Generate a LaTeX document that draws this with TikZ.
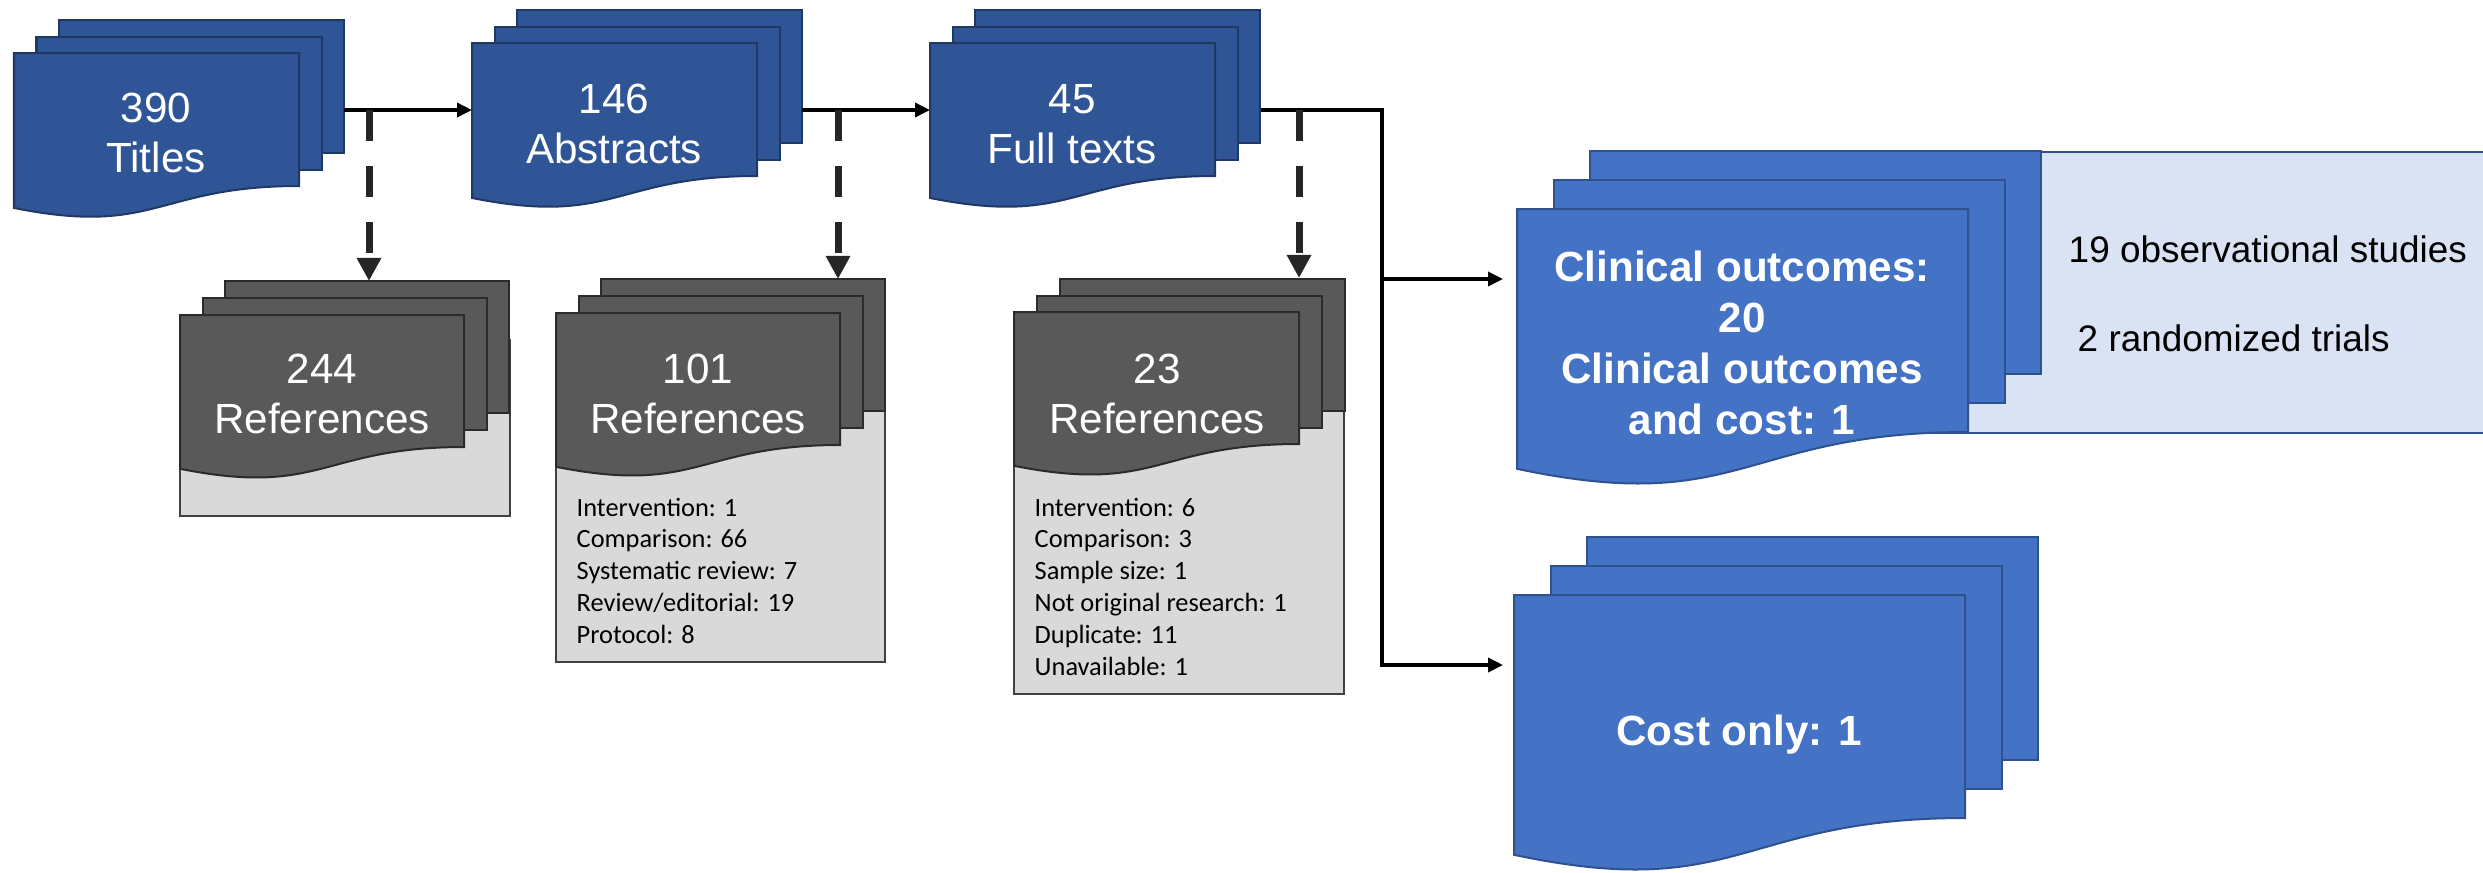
\documentclass[tikz,border=0pt]{standalone}
\usepackage{fontspec}
\setmainfont{Liberation Sans}
\newfontfamily\calibri{Carlito}
\usetikzlibrary{arrows.meta}
\definecolor{stepblue}{HTML}{2F5597}
\definecolor{stepedge}{HTML}{203864}
\definecolor{outblue}{HTML}{4472C4}
\definecolor{outedge}{HTML}{2F528F}
\definecolor{paleblue}{HTML}{DAE3F3}
\definecolor{refgray}{HTML}{595959}
\definecolor{refedge}{HTML}{2B2B2B}
\definecolor{palegray}{HTML}{D9D9D9}
\begin{document}
\begin{tikzpicture}[x=0.01cm, y=-0.01cm,
    big/.style={text=white, align=center, inner sep=0pt, font=\fontsize{12}{14.2}\selectfont},
    bold/.style={big, font=\fontsize{12}{14.5}\selectfont\bfseries},
    reason/.style={inner sep=0pt, anchor=base west, font=\calibri\fontsize{7.5}{9}\selectfont},
    study/.style={inner sep=0pt, anchor=west, font=\fontsize{10.5}{12}\selectfont},
    flow/.style={line width=0.035cm, -{Triangle[length=0.15cm, width=0.14cm]}},
    excl/.style={draw=black!85, line width=0.07cm, dash pattern=on 0.31cm off 0.25cm,
        -{Triangle[length=0.23cm, width=0.23cm]}},
    blue page/.style={fill=stepblue, draw=stepedge, line width=0.02cm},
    gray page/.style={fill=refgray, draw=refedge, line width=0.02cm},
    out page/.style={fill=outblue, draw=outedge, line width=0.02cm},
    pale box/.style={fill=palegray, draw=black!75, line width=0.02cm},
    pics/stack/.style n args={5}{code={
        \foreach \k in {2,1}
            \filldraw[#5] (\k*#3, -\k*#4) rectangle ++(#1, #2);
        \filldraw[#5] (0,0) -- (#1,0) -- (#1,#2)
            .. controls ({0.5*#1},#2) and ({0.5*#1},{1.38*#2}) .. (0,{1.165*#2}) -- cycle;
    }}]
    \useasboundingbox (0,0) rectangle (2483,872);
    % boxes behind the stacks
    \filldraw[pale box] (180,340) rectangle (510,516);
    \filldraw[pale box] (556,340) rectangle (885,662);
    \filldraw[pale box] (1014,340) rectangle (1344,694);
    \fill[paleblue] (1700,152) rectangle (2483,433);
    \draw[outedge, line width=0.02cm] (1700,152) -- (2483,152) (1700,433) -- (2483,433);
    % stacks
    \pic at (14,53) {stack={285}{133}{22.5}{16.5}{blue page}};
    \pic at (472,43) {stack={285}{133}{22.5}{16.5}{blue page}};
    \pic at (930,43) {stack={285}{133}{22.5}{16.5}{blue page}};
    \pic at (180,315) {stack={284}{132}{22.5}{17}{gray page}};
    \pic at (556,313) {stack={284}{132}{22.5}{17}{gray page}};
    \pic at (1014,312) {stack={285}{132}{23}{16.5}{gray page}};
    \pic at (1517,209) {stack={451}{223}{36.5}{29}{out page}};
    \pic at (1514,595) {stack={451}{223}{36.5}{29}{out page}};
    % labels
    \node[big] (titles) at (156,133) {390\\Titles};
    \node[big] (abstracts) at (614,124) {146\\Abstracts};
    \node[big] (fulltexts) at (1072,124) {45\\Full texts};
    \node[big] (excl1) at (322,394) {244\\References};
    \node[big] (excl2) at (698,394) {101\\References};
    \node[big] (excl3) at (1157,394) {23\\References};
    \node[bold] (clinical) at (1742,343) {Clinical outcomes:\\20\\Clinical outcomes\\and cost: 1};
    \node[bold, anchor=base] (costonly) at (1739,745) {Cost only: 1};
    \node[study] (obs) at (2068,249) {19 observational studies};
    \node[study] (rct) at (2077,338) {2 randomized trials};
    \foreach \txt [count=\i] in {Intervention: 1, Comparison: 66, Systematic review: 7,
            Review/editorial: 19, Protocol: 8}
        \node[reason] (why2-\i) at (576, 484.2+31.8*\i) {\txt};
    \foreach \txt [count=\i] in {Intervention: 6, Comparison: 3, Sample size: 1,
            Not original research: 1, Duplicate: 11, Unavailable: 1}
        \node[reason] (why3-\i) at (1034, 484.2+31.8*\i) {\txt};
    % connector ends
    \coordinate (titles-out) at (344,110);
    \coordinate (abstracts-in) at (472,110);
    \coordinate (abstracts-out) at (802,110);
    \coordinate (fulltexts-in) at (930,110);
    \coordinate (fulltexts-out) at (1261,110);
    \coordinate (fork) at (1382,110);
    \coordinate (clinical-in) at (1503,279);
    \coordinate (costonly-in) at (1503,665);
    \coordinate (excl1-top) at (369,281);
    \coordinate (excl2-top) at (838,279);
    \coordinate (excl3-top) at (1299,278);
    % connectors
    \draw[flow] (titles-out) -- (abstracts-in);
    \draw[flow] (abstracts-out) -- (fulltexts-in);
    \draw[flow] (fulltexts-out) -- (fork) |- (costonly-in);
    \draw[flow] (fork |- clinical-in) -- (clinical-in);
    \draw[excl] (titles-out -| excl1-top) -- (excl1-top);
    \draw[excl] (abstracts-out -| excl2-top) -- (excl2-top);
    \draw[excl] (fulltexts-out -| excl3-top) -- (excl3-top);
\end{tikzpicture}
\end{document}
